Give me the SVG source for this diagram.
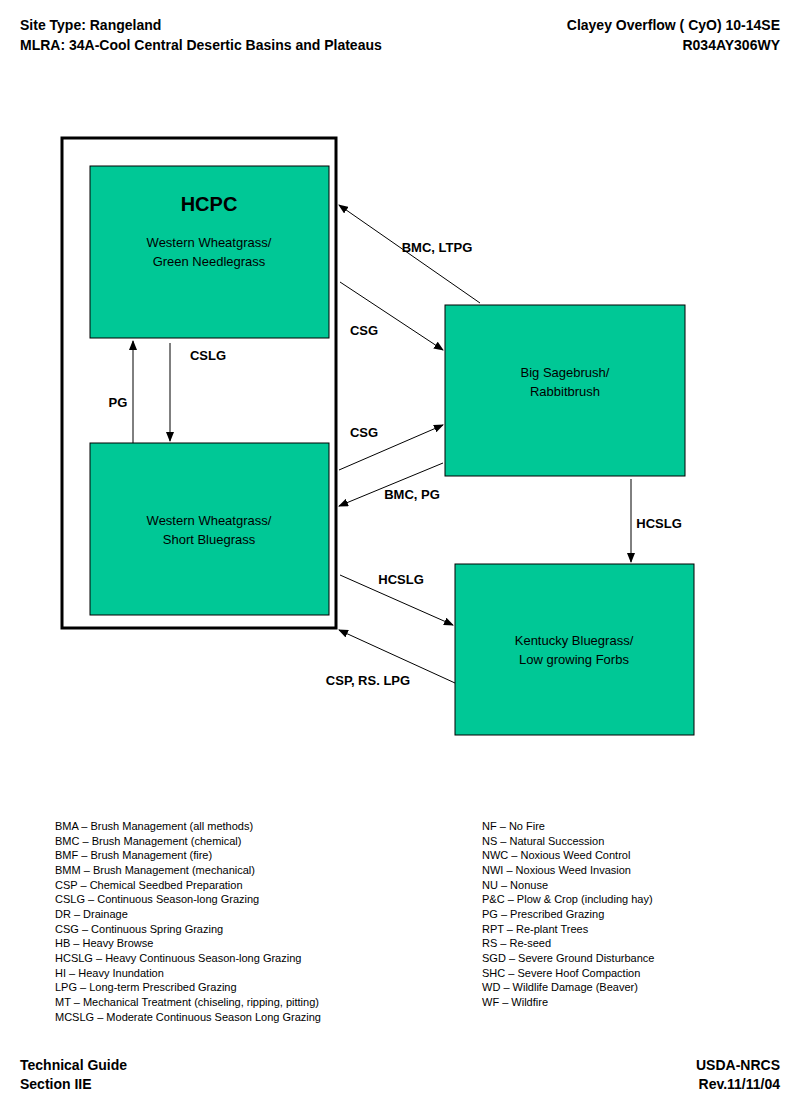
<svg xmlns="http://www.w3.org/2000/svg" width="800" height="1108" viewBox="0 0 800 1108">
<defs>
<marker id="ah" markerWidth="10" markerHeight="8" refX="9" refY="4" orient="auto" markerUnits="userSpaceOnUse"><path d="M0,0 L10,4 L0,8 z" fill="#000"/></marker>
</defs>
<style>
.h{font-family:"Liberation Sans",Arial,sans-serif;font-weight:bold;font-size:14px;fill:#000}
.n{fill:#00C896;stroke:#000;stroke-width:1}
.t{font-family:"Liberation Sans",Arial,sans-serif;font-size:13px;fill:#000;text-anchor:middle}
.l{font-family:"Liberation Sans",Arial,sans-serif;font-weight:bold;font-size:13px;fill:#000;text-anchor:middle}
.g{font-family:"Liberation Sans",Arial,sans-serif;font-size:11px;fill:#000}
.c{stroke:#000;stroke-width:1;fill:none;marker-end:url(#ah)}
</style>
<rect width="800" height="1108" fill="#fff"/>
<text class="h" x="20" y="30">Site Type:  Rangeland</text>
<text class="h" x="20" y="50">MLRA: 34A-Cool Central Desertic Basins and Plateaus</text>
<text class="h" x="780" y="30" text-anchor="end">Clayey Overflow ( CyO) 10-14SE</text>
<text class="h" x="780" y="50" text-anchor="end">R034AY306WY</text>
<rect x="62" y="138" width="274" height="490" fill="none" stroke="#000" stroke-width="3"/>
<g id="hcpc"><rect class="n" x="90" y="166" width="239" height="172"/>
<text x="209" y="211" font-family="Liberation Sans,Arial,sans-serif" font-weight="bold" font-size="20" text-anchor="middle">HCPC</text>
<text class="t" x="209" y="247">Western Wheatgrass/</text><text class="t" x="209" y="266">Green Needlegrass</text></g>
<g id="short"><rect class="n" x="90" y="443" width="239" height="172"/>
<text class="t" x="209" y="525">Western Wheatgrass/</text><text class="t" x="209" y="544">Short Bluegrass</text></g>
<g id="sage"><rect class="n" x="445" y="305" width="240" height="171"/>
<text class="t" x="565" y="377">Big Sagebrush/</text><text class="t" x="565" y="396">Rabbitbrush</text></g>
<g id="kbg"><rect class="n" x="455" y="564" width="239" height="171"/>
<text class="t" x="574" y="645">Kentucky Bluegrass/</text><text class="t" x="574" y="664">Low growing Forbs</text></g>
<g id="connectors">
<line class="c" x1="480" y1="303" x2="339" y2="205"/>
<line class="c" x1="340" y1="282" x2="443" y2="350"/>
<line class="c" x1="170" y1="343" x2="170" y2="441"/>
<line class="c" x1="133" y1="443" x2="133" y2="341"/>
<line class="c" x1="339" y1="470" x2="443" y2="425"/>
<line class="c" x1="443" y1="463" x2="339" y2="506"/>
<line class="c" x1="631" y1="479" x2="631" y2="562"/>
<line class="c" x1="340" y1="575" x2="453" y2="625"/>
<line class="c" x1="455" y1="683" x2="339" y2="630"/>
<text class="l" x="437" y="252">BMC, LTPG</text>
<text class="l" x="364" y="335">CSG</text>
<text class="l" x="208" y="360">CSLG</text>
<text class="l" x="118" y="407">PG</text>
<text class="l" x="364" y="437">CSG</text>
<text class="l" x="412" y="499">BMC, PG</text>
<text class="l" x="659" y="528">HCSLG</text>
<text class="l" x="401" y="584">HCSLG</text>
<text class="l" x="368" y="685">CSP, RS. LPG</text>
</g>
<g class="g">
<text x="55" y="830">BMA – Brush Management (all methods)</text>
<text x="55" y="845">BMC – Brush Management (chemical)</text>
<text x="55" y="859">BMF – Brush Management (fire)</text>
<text x="55" y="874">BMM – Brush Management (mechanical)</text>
<text x="55" y="889">CSP – Chemical Seedbed Preparation</text>
<text x="55" y="903">CSLG – Continuous Season-long Grazing</text>
<text x="55" y="918">DR – Drainage</text>
<text x="55" y="933">CSG – Continuous Spring Grazing</text>
<text x="55" y="947">HB – Heavy Browse</text>
<text x="55" y="962">HCSLG – Heavy Continuous Season-long Grazing</text>
<text x="55" y="977">HI – Heavy Inundation</text>
<text x="55" y="991">LPG – Long-term Prescribed Grazing</text>
<text x="55" y="1006">MT – Mechanical Treatment (chiseling, ripping, pitting)</text>
<text x="55" y="1021">MCSLG – Moderate Continuous Season Long Grazing</text>
<text x="482" y="830">NF – No Fire</text>
<text x="482" y="845">NS – Natural Succession</text>
<text x="482" y="859">NWC – Noxious Weed Control</text>
<text x="482" y="874">NWI – Noxious Weed Invasion</text>
<text x="482" y="889">NU – Nonuse</text>
<text x="482" y="903">P&amp;C – Plow &amp; Crop (including hay)</text>
<text x="482" y="918">PG – Prescribed Grazing</text>
<text x="482" y="933">RPT – Re-plant Trees</text>
<text x="482" y="947">RS – Re-seed</text>
<text x="482" y="962">SGD – Severe Ground Disturbance</text>
<text x="482" y="977">SHC – Severe Hoof Compaction</text>
<text x="482" y="991">WD – Wildlife Damage (Beaver)</text>
<text x="482" y="1006">WF – Wildfire</text>
</g>
<text class="h" x="20" y="1070">Technical Guide</text>
<text class="h" x="20" y="1089">Section IIE</text>
<text class="h" x="780" y="1070" text-anchor="end">USDA-NRCS</text>
<text class="h" x="780" y="1089" text-anchor="end">Rev.11/11/04</text>
</svg>
